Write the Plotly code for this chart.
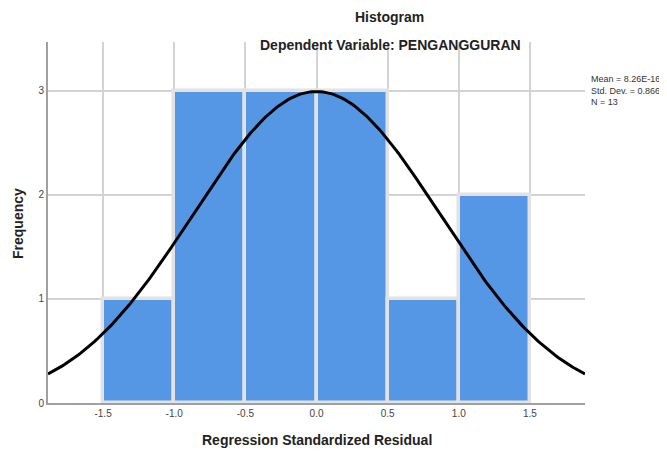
import numpy as np
import plotly.graph_objects as go

# Data
bin_starts = [-1.5, -1.0, -0.5, 0.0, 0.5, 1.0]
bin_width = 0.5
frequencies = [1, 3, 3, 3, 1, 2]
mean_val = 8.26e-16
std_dev = 0.866
n_obs = 13
x_ticks = [-1.5, -1.0, -0.5, 0.0, 0.5, 1.0, 1.5]
y_ticks = [0, 1, 2, 3]

bin_centers = [b + bin_width / 2 for b in bin_starts]

x_range = [-1.887, 1.887]
xs = np.linspace(x_range[0], x_range[1], 300)
ys = n_obs * bin_width / (std_dev * np.sqrt(2 * np.pi)) * np.exp(-0.5 * ((xs - mean_val) / std_dev) ** 2)

fig = go.Figure()
fig.add_trace(go.Bar(
    x=bin_centers, y=frequencies, width=bin_width,
    marker=dict(color="#5596E5", line=dict(color="#E2E2E2", width=3.5)),
    hoverinfo="skip", showlegend=False,
))
fig.add_trace(go.Scatter(
    x=xs, y=ys, mode="lines",
    line=dict(color="black", width=3),
    hoverinfo="skip", showlegend=False,
))

# The page body has an 8px margin; work in reference pixels and shift.
OFF = 8
W, H = 667 - OFF, 452 - OFF
L, T = 48 - OFF, 42 - OFF
R = W - (585 - OFF)
B = H - (403 - OFF)
pw = W - L - R
ph = H - T - B


def px(x):
    return (x - OFF - L) / pw


def py(y):
    return 1 - (y - OFF - T) / ph


font_family = "Liberation Sans, Arial, sans-serif"
fig.update_layout(
    width=W, height=H,
    margin=dict(l=L, r=R, t=T, b=B, autoexpand=False),
    plot_bgcolor="white", paper_bgcolor="white",
    font=dict(family=font_family, color="#333333"),
    bargap=0,
    xaxis=dict(
        range=x_range, tickvals=x_ticks, automargin=False,
        ticktext=[f"{v:.1f}" for v in x_ticks],
        showgrid=True, gridcolor="#D3D3D3", gridwidth=1.5,
        zeroline=False, showline=True, linecolor="#A0A0A0", linewidth=2,
        tickfont=dict(size=10, color="#444444"),
    ),
    yaxis=dict(
        range=[0, 3.47], tickvals=y_ticks, automargin=False,
        showgrid=True, gridcolor="#D3D3D3", gridwidth=1.5,
        zeroline=False, showline=True, linecolor="#A0A0A0", linewidth=2,
        tickfont=dict(size=10, color="#444444"),
    ),
    annotations=[
        dict(text="<b>Histogram</b>", x=px(389), y=py(17), xref="paper", yref="paper",
             xanchor="center", yanchor="middle",
             showarrow=False, font=dict(size=14, color="#222222")),
        dict(text="<b>Dependent Variable: PENGANGGURAN</b>", x=px(390), y=py(45),
             xref="paper", yref="paper", xanchor="center", yanchor="middle",
             showarrow=False, font=dict(size=14, color="#222222")),
        dict(text="<b>Regression Standardized Residual</b>", x=px(317), y=py(440),
             xref="paper", yref="paper", xanchor="center", yanchor="middle",
             showarrow=False, font=dict(size=14, color="#222222")),
        dict(text="<b>Frequency</b>", x=px(18), y=py(224), textangle=-90,
             xref="paper", yref="paper", xanchor="center", yanchor="middle",
             showarrow=False, font=dict(size=14, color="#222222")),
        dict(text=f"Mean = {mean_val:.2E}<br>Std. Dev. = {std_dev:.3f}<br>N = {n_obs}",
             x=px(589), y=py(90), xref="paper", yref="paper", xanchor="left", yanchor="middle",
             align="left", showarrow=False, font=dict(size=9, color="#333333")),
    ],
)

fig.write_html("out.html")
